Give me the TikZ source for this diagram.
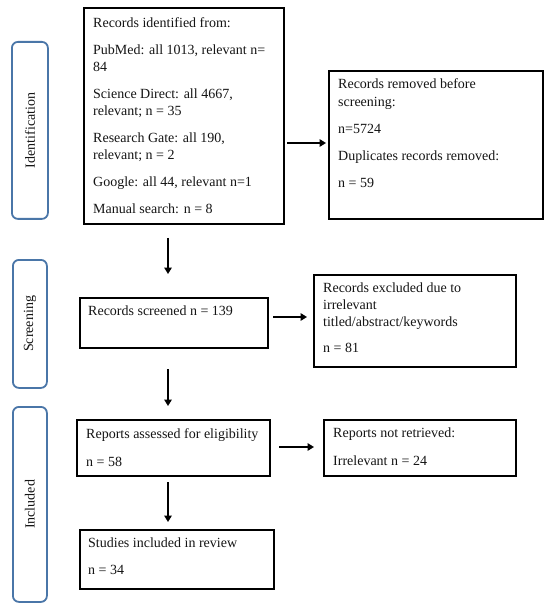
\documentclass[tikz,border=0pt]{standalone}
\usepackage{fontspec}
\setmainfont{Liberation Serif}
\usetikzlibrary{arrows.meta}
\definecolor{lblblue}{HTML}{4A76A8}
\definecolor{txt}{HTML}{151515}
\begin{document}
\begin{tikzpicture}[x=1pt,y=-1pt,
  box/.style={draw=black, line width=1.8pt, anchor=north west, inner sep=0pt},
  lbl/.style={draw=lblblue, line width=1.8pt, rounded corners=6pt, anchor=north west, inner sep=0pt},
  lbltext/.style={rotate=90, font=\fontsize{14}{17}\selectfont, text=txt},
  txtblk/.style={anchor=north west, inner sep=0pt, align=left, font=\fontsize{14}{17}\selectfont, text=txt},
  arr/.style={line width=2pt, -{Triangle[length=6.5pt,width=7.5pt]}}]
\useasboundingbox (0,0) rectangle (550,609);
\fill[white] (0,0) rectangle (550,609);
% stage labels
\node[lbl, minimum width=36pt, minimum height=177pt] (lid) at (11,41) {};
\node[lbltext] (tid) at (lid.center) {Identification};
\node[lbl, minimum width=34pt, minimum height=128pt] (lsc) at (12,259) {};
\node[lbltext] (tsc) at (lsc.center) {Screening};
\node[lbl, minimum width=34pt, minimum height=195pt] (lin) at (12,406) {};
\node[lbltext] (tin) at (lin.center) {Included};
% boxes
\node[box, minimum width=200pt, minimum height=216pt] (b1) at (83,7) {};
\node[txtblk] (t1) at (93,17) {Records identified from:\\[10pt]
PubMed: all 1013, relevant n=\\84\\[10pt]
Science Direct: all 4667,\\relevant; n = 35\\[10pt]
Research Gate: all 190,\\relevant; n = 2\\[10pt]
Google: all 44, relevant n=1\\[10pt]
Manual search: n = 8};
\node[box, minimum width=214pt, minimum height=148pt] (b2) at (328,70) {};
\node[txtblk] (t2) at (338,78) {Records removed before\\[1pt]screening:\\[10pt]
n=5724\\[10pt]
Duplicates records removed:\\[10pt]
n = 59};
\node[box, minimum width=188pt, minimum height=50pt] (b3) at (79,297) {};
\node[txtblk] (t3) at (88,306) {Records screened n = 139};
\node[box, minimum width=202pt, minimum height=92pt] (b4) at (313,274) {};
\node[txtblk] (t4) at (323,283) {Records excluded due to\\irrelevant\\titled/abstract/keywords\\[9pt]
n = 81};
\node[box, minimum width=193pt, minimum height=56pt] (b5) at (76,419) {};
\node[txtblk] (t5) at (86,428) {Reports assessed for eligibility\\[11pt]n = 58};
\node[box, minimum width=192pt, minimum height=56pt] (b6) at (323,419) {};
\node[txtblk] (t6) at (333,428) {Reports not retrieved:\\[11pt]Irrelevant n = 24};
\node[box, minimum width=194pt, minimum height=59pt] (b7) at (79,529) {};
\node[txtblk] (t7) at (88,538) {Studies included in review\\[10pt]n = 34};
% arrow endpoints
\coordinate (a1s) at (287,143); \coordinate (a1e) at (326,143);
\coordinate (a2s) at (168,238); \coordinate (a2e) at (168,274);
\coordinate (a3s) at (273,317); \coordinate (a3e) at (307,317);
\coordinate (a4s) at (168,369); \coordinate (a4e) at (168,406);
\coordinate (a5s) at (279,447); \coordinate (a5e) at (314,447);
\coordinate (a6s) at (168,482); \coordinate (a6e) at (168,522);
\draw[arr] (a1s) -- (a1e);
\draw[arr] (a2s) -- (a2e);
\draw[arr] (a3s) -- (a3e);
\draw[arr] (a4s) -- (a4e);
\draw[arr] (a5s) -- (a5e);
\draw[arr] (a6s) -- (a6e);
\end{tikzpicture}
\end{document}
